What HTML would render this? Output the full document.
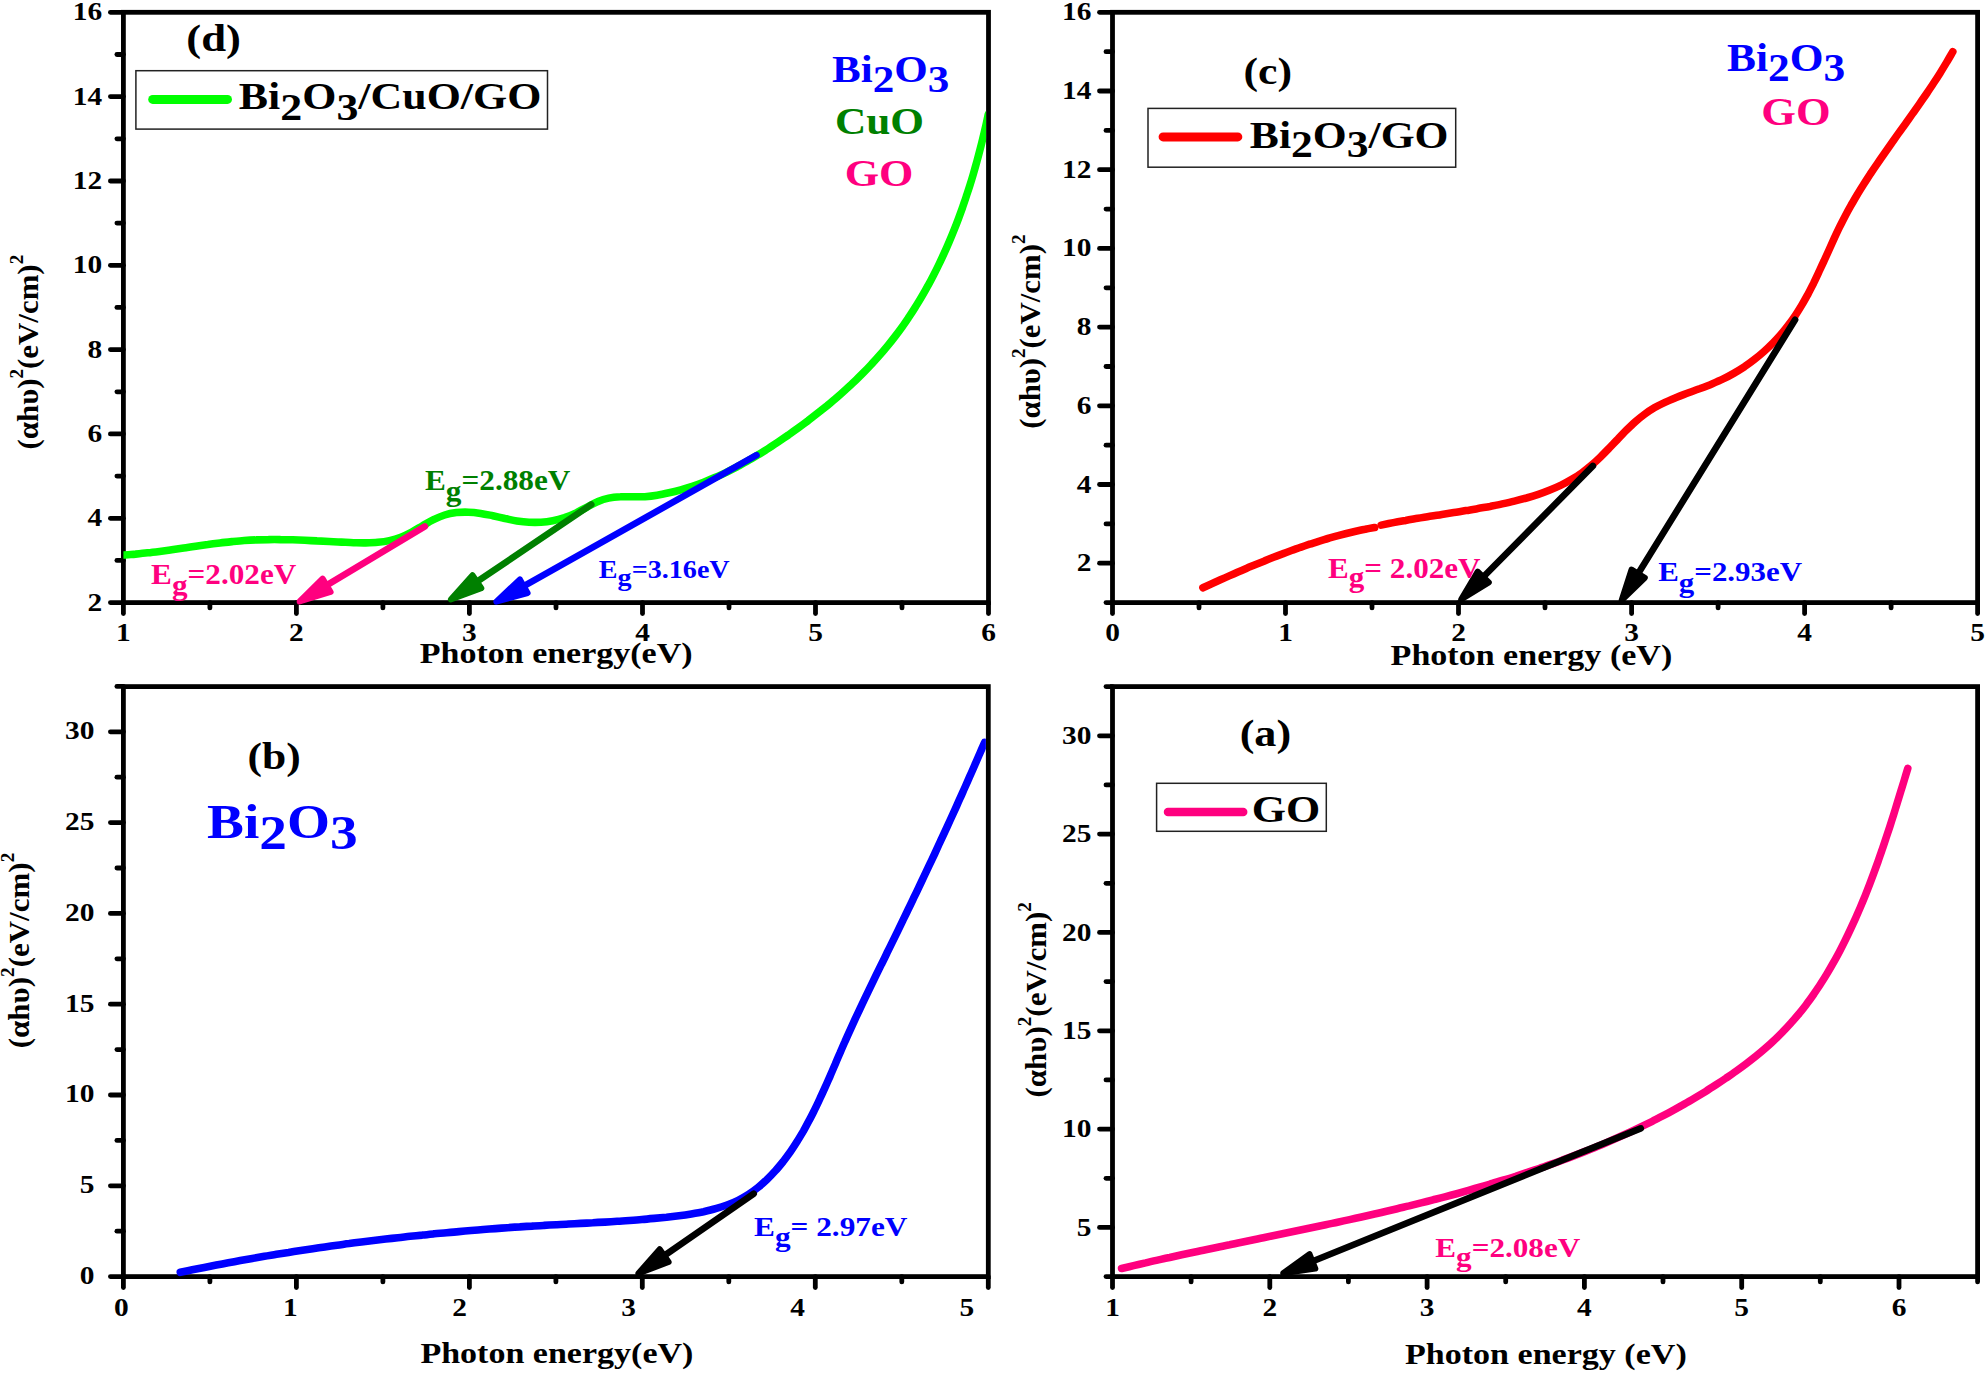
<!DOCTYPE html>
<html lang="en"><head><meta charset="utf-8"><title>Tauc plots</title>
<style>
html,body{margin:0;padding:0;background:#fff}
svg{display:block}
text{font-family:'Liberation Serif', 'DejaVu Serif', serif;font-weight:bold}
</style></head>
<body>
<svg width="1986" height="1374" viewBox="0 0 1986 1374">
<rect width="1986" height="1374" fill="#fff"/>
<defs><clipPath id="cd"><rect x="123.4" y="12.3" width="862.7" height="590.3"/></clipPath><clipPath id="cb"><rect x="123.4" y="686.6" width="862.5" height="600.0"/></clipPath></defs>
<g fill="none" stroke="#000" stroke-width="4.8">
<rect x="123.4" y="12.3" width="865.1" height="590.3"/>
<rect x="1112.5" y="12.3" width="865.1" height="590.3"/>
<rect x="123.4" y="686.6" width="864.9" height="590.0"/>
<rect x="1112.5" y="686.6" width="865.1" height="590.0"/>
</g>
<g stroke="#000" stroke-width="4.8" stroke-linecap="round">
<line x1="123.4" y1="602.6" x2="123.4" y2="613.5"/>
<line x1="209.9" y1="602.6" x2="209.9" y2="607.9"/>
<line x1="296.4" y1="602.6" x2="296.4" y2="613.5"/>
<line x1="382.9" y1="602.6" x2="382.9" y2="607.9"/>
<line x1="469.4" y1="602.6" x2="469.4" y2="613.5"/>
<line x1="556.0" y1="602.6" x2="556.0" y2="607.9"/>
<line x1="642.5" y1="602.6" x2="642.5" y2="613.5"/>
<line x1="729.0" y1="602.6" x2="729.0" y2="607.9"/>
<line x1="815.5" y1="602.6" x2="815.5" y2="613.5"/>
<line x1="902.0" y1="602.6" x2="902.0" y2="607.9"/>
<line x1="988.5" y1="602.6" x2="988.5" y2="613.5"/>
<line x1="123.4" y1="602.6" x2="110.4" y2="602.6"/>
<line x1="123.4" y1="560.4" x2="116.9" y2="560.4"/>
<line x1="123.4" y1="518.3" x2="110.4" y2="518.3"/>
<line x1="123.4" y1="476.1" x2="116.9" y2="476.1"/>
<line x1="123.4" y1="433.9" x2="110.4" y2="433.9"/>
<line x1="123.4" y1="391.8" x2="116.9" y2="391.8"/>
<line x1="123.4" y1="349.6" x2="110.4" y2="349.6"/>
<line x1="123.4" y1="307.4" x2="116.9" y2="307.4"/>
<line x1="123.4" y1="265.3" x2="110.4" y2="265.3"/>
<line x1="123.4" y1="223.1" x2="116.9" y2="223.1"/>
<line x1="123.4" y1="181.0" x2="110.4" y2="181.0"/>
<line x1="123.4" y1="138.8" x2="116.9" y2="138.8"/>
<line x1="123.4" y1="96.6" x2="110.4" y2="96.6"/>
<line x1="123.4" y1="54.5" x2="116.9" y2="54.5"/>
<line x1="123.4" y1="12.3" x2="110.4" y2="12.3"/>
<line x1="1112.5" y1="602.6" x2="1112.5" y2="613.5"/>
<line x1="1199.0" y1="602.6" x2="1199.0" y2="607.9"/>
<line x1="1285.5" y1="602.6" x2="1285.5" y2="613.5"/>
<line x1="1372.0" y1="602.6" x2="1372.0" y2="607.9"/>
<line x1="1458.5" y1="602.6" x2="1458.5" y2="613.5"/>
<line x1="1545.0" y1="602.6" x2="1545.0" y2="607.9"/>
<line x1="1631.6" y1="602.6" x2="1631.6" y2="613.5"/>
<line x1="1718.1" y1="602.6" x2="1718.1" y2="607.9"/>
<line x1="1804.6" y1="602.6" x2="1804.6" y2="613.5"/>
<line x1="1891.1" y1="602.6" x2="1891.1" y2="607.9"/>
<line x1="1977.6" y1="602.6" x2="1977.6" y2="613.5"/>
<line x1="1112.5" y1="602.6" x2="1106.0" y2="602.6"/>
<line x1="1112.5" y1="563.2" x2="1099.5" y2="563.2"/>
<line x1="1112.5" y1="523.9" x2="1106.0" y2="523.9"/>
<line x1="1112.5" y1="484.5" x2="1099.5" y2="484.5"/>
<line x1="1112.5" y1="445.2" x2="1106.0" y2="445.2"/>
<line x1="1112.5" y1="405.8" x2="1099.5" y2="405.8"/>
<line x1="1112.5" y1="366.5" x2="1106.0" y2="366.5"/>
<line x1="1112.5" y1="327.1" x2="1099.5" y2="327.1"/>
<line x1="1112.5" y1="287.8" x2="1106.0" y2="287.8"/>
<line x1="1112.5" y1="248.4" x2="1099.5" y2="248.4"/>
<line x1="1112.5" y1="209.1" x2="1106.0" y2="209.1"/>
<line x1="1112.5" y1="169.7" x2="1099.5" y2="169.7"/>
<line x1="1112.5" y1="130.4" x2="1106.0" y2="130.4"/>
<line x1="1112.5" y1="91.0" x2="1099.5" y2="91.0"/>
<line x1="1112.5" y1="51.7" x2="1106.0" y2="51.7"/>
<line x1="1112.5" y1="12.3" x2="1099.5" y2="12.3"/>
<line x1="123.4" y1="1276.6" x2="123.4" y2="1287.5"/>
<line x1="209.9" y1="1276.6" x2="209.9" y2="1281.9"/>
<line x1="296.4" y1="1276.6" x2="296.4" y2="1287.5"/>
<line x1="382.9" y1="1276.6" x2="382.9" y2="1281.9"/>
<line x1="469.4" y1="1276.6" x2="469.4" y2="1287.5"/>
<line x1="555.9" y1="1276.6" x2="555.9" y2="1281.9"/>
<line x1="642.3" y1="1276.6" x2="642.3" y2="1287.5"/>
<line x1="728.8" y1="1276.6" x2="728.8" y2="1281.9"/>
<line x1="815.3" y1="1276.6" x2="815.3" y2="1287.5"/>
<line x1="901.8" y1="1276.6" x2="901.8" y2="1281.9"/>
<line x1="988.3" y1="1276.6" x2="988.3" y2="1287.5"/>
<line x1="123.4" y1="1276.6" x2="110.4" y2="1276.6"/>
<line x1="123.4" y1="1231.2" x2="116.9" y2="1231.2"/>
<line x1="123.4" y1="1185.8" x2="110.4" y2="1185.8"/>
<line x1="123.4" y1="1140.4" x2="116.9" y2="1140.4"/>
<line x1="123.4" y1="1095.0" x2="110.4" y2="1095.0"/>
<line x1="123.4" y1="1049.6" x2="116.9" y2="1049.6"/>
<line x1="123.4" y1="1004.2" x2="110.4" y2="1004.2"/>
<line x1="123.4" y1="958.8" x2="116.9" y2="958.8"/>
<line x1="123.4" y1="913.4" x2="110.4" y2="913.4"/>
<line x1="123.4" y1="868.0" x2="116.9" y2="868.0"/>
<line x1="123.4" y1="822.6" x2="110.4" y2="822.6"/>
<line x1="123.4" y1="777.2" x2="116.9" y2="777.2"/>
<line x1="123.4" y1="731.8" x2="110.4" y2="731.8"/>
<line x1="123.4" y1="686.4" x2="116.9" y2="686.4"/>
<line x1="1112.5" y1="1276.6" x2="1112.5" y2="1287.5"/>
<line x1="1191.1" y1="1276.6" x2="1191.1" y2="1281.9"/>
<line x1="1269.8" y1="1276.6" x2="1269.8" y2="1287.5"/>
<line x1="1348.4" y1="1276.6" x2="1348.4" y2="1281.9"/>
<line x1="1427.1" y1="1276.6" x2="1427.1" y2="1287.5"/>
<line x1="1505.7" y1="1276.6" x2="1505.7" y2="1281.9"/>
<line x1="1584.4" y1="1276.6" x2="1584.4" y2="1287.5"/>
<line x1="1663.0" y1="1276.6" x2="1663.0" y2="1281.9"/>
<line x1="1741.7" y1="1276.6" x2="1741.7" y2="1287.5"/>
<line x1="1820.3" y1="1276.6" x2="1820.3" y2="1281.9"/>
<line x1="1899.0" y1="1276.6" x2="1899.0" y2="1287.5"/>
<line x1="1977.6" y1="1276.6" x2="1977.6" y2="1281.9"/>
<line x1="1112.5" y1="1276.6" x2="1106.0" y2="1276.6"/>
<line x1="1112.5" y1="1227.4" x2="1099.5" y2="1227.4"/>
<line x1="1112.5" y1="1178.3" x2="1106.0" y2="1178.3"/>
<line x1="1112.5" y1="1129.1" x2="1099.5" y2="1129.1"/>
<line x1="1112.5" y1="1079.9" x2="1106.0" y2="1079.9"/>
<line x1="1112.5" y1="1030.8" x2="1099.5" y2="1030.8"/>
<line x1="1112.5" y1="981.6" x2="1106.0" y2="981.6"/>
<line x1="1112.5" y1="932.4" x2="1099.5" y2="932.4"/>
<line x1="1112.5" y1="883.3" x2="1106.0" y2="883.3"/>
<line x1="1112.5" y1="834.1" x2="1099.5" y2="834.1"/>
<line x1="1112.5" y1="784.9" x2="1106.0" y2="784.9"/>
<line x1="1112.5" y1="735.8" x2="1099.5" y2="735.8"/>
<line x1="1112.5" y1="686.6" x2="1106.0" y2="686.6"/>
</g>
<g fill="none" stroke-linecap="round" stroke-linejoin="round">
<path d="M123.4,555.0C125.4,554.8 131.5,554.4 135.5,554.1C139.5,553.7 143.5,553.3 147.6,552.8C151.6,552.4 155.6,551.9 159.6,551.4C163.7,550.8 167.7,550.3 171.7,549.7C175.7,549.1 179.7,548.5 183.7,547.9C187.8,547.4 191.8,546.8 195.8,546.2C199.8,545.6 203.9,545.0 207.9,544.5C211.9,543.9 215.9,543.4 220.0,542.9C224.0,542.4 228.0,542.0 232.0,541.6C236.1,541.2 240.1,540.8 244.1,540.5C248.2,540.2 252.2,540.0 256.2,539.9C260.3,539.7 264.3,539.6 268.4,539.6C272.4,539.5 276.5,539.5 280.5,539.6C284.6,539.6 288.6,539.7 292.7,539.8C296.7,540.0 300.8,540.1 304.9,540.3C308.9,540.5 313.0,540.7 317.0,540.9C321.1,541.1 325.2,541.3 329.2,541.5C333.3,541.7 337.3,542.0 341.4,542.1C345.5,542.3 349.5,542.6 353.6,542.7C357.6,542.8 361.7,543.0 365.7,542.9C369.7,542.8 373.8,542.7 377.7,542.3C381.7,541.9 385.6,541.4 389.4,540.6C393.3,539.7 397.1,538.6 400.8,537.2C404.6,535.7 408.2,533.9 411.8,532.0C415.5,530.1 419.0,527.8 422.6,525.7C426.2,523.7 429.8,521.5 433.5,519.7C437.2,517.9 440.9,516.2 444.7,515.0C448.5,513.8 452.5,513.1 456.4,512.6C460.4,512.1 464.5,512.1 468.5,512.2C472.5,512.3 476.6,512.8 480.7,513.4C484.8,514.0 488.8,514.9 492.8,515.7C496.8,516.6 500.9,517.6 504.9,518.5C508.9,519.3 512.9,520.3 516.9,520.9C520.9,521.5 524.9,522.0 529.0,522.2C533.0,522.4 537.0,522.4 541.0,522.2C545.0,521.9 548.9,521.4 552.8,520.7C556.8,519.9 560.6,518.9 564.5,517.7C568.3,516.4 572.0,514.9 575.7,513.1C579.4,511.4 582.9,509.2 586.6,507.3C590.2,505.4 593.7,503.3 597.4,501.8C601.1,500.2 604.8,498.9 608.7,498.1C612.5,497.3 616.5,497.0 620.5,496.8C624.5,496.5 628.6,496.8 632.6,496.8C636.7,496.8 640.9,496.9 644.9,496.7C649.0,496.4 653.1,495.9 657.1,495.2C661.1,494.6 665.1,493.7 669.0,492.8C673.0,491.9 676.9,490.9 680.8,489.8C684.6,488.8 688.5,487.6 692.3,486.3C696.1,485.0 699.9,483.6 703.6,482.2C707.4,480.7 711.1,479.2 714.8,477.6C718.5,476.0 722.1,474.3 725.8,472.6C729.4,470.8 733.0,469.0 736.6,467.1C740.1,465.2 743.7,463.3 747.2,461.3C750.7,459.3 754.2,457.2 757.7,455.1C761.2,453.0 764.6,450.8 768.1,448.6C771.5,446.4 774.9,444.2 778.3,441.9C781.7,439.6 785.0,437.3 788.4,435.0C791.7,432.6 795.0,430.3 798.3,427.9C801.6,425.5 804.9,423.0 808.2,420.6C811.4,418.1 814.6,415.6 817.8,413.1C821.0,410.6 824.2,408.0 827.4,405.5C830.5,402.9 833.6,400.3 836.7,397.6C839.8,395.0 842.8,392.3 845.8,389.5C848.8,386.8 851.8,384.1 854.7,381.3C857.6,378.5 860.5,375.6 863.3,372.8C866.2,369.9 869.0,367.0 871.7,364.0C874.5,361.1 877.2,358.1 879.8,355.1C882.5,352.0 885.1,349.0 887.6,345.9C890.2,342.7 892.7,339.6 895.1,336.4C897.6,333.2 900.0,329.9 902.3,326.7C904.7,323.4 906.9,320.1 909.2,316.7C911.4,313.4 913.6,310.0 915.7,306.5C917.9,303.1 920.0,299.7 922.0,296.2C924.1,292.7 926.1,289.2 928.0,285.6C930.0,282.1 931.9,278.5 933.7,274.9C935.6,271.3 937.4,267.6 939.1,264.0C940.9,260.3 942.6,256.6 944.3,252.9C946.0,249.2 947.6,245.5 949.2,241.7C950.8,238.0 952.4,234.2 953.9,230.4C955.4,226.7 956.9,222.9 958.3,219.1C959.7,215.2 961.1,211.4 962.5,207.6C963.8,203.7 965.2,199.9 966.4,196.0C967.7,192.1 969.0,188.3 970.2,184.4C971.4,180.5 972.6,176.6 973.7,172.7C974.8,168.8 975.9,164.9 977.0,161.0C978.1,157.1 979.1,153.2 980.1,149.3C981.1,145.4 982.1,141.5 983.0,137.6C984.0,133.7 984.9,129.8 985.8,125.9C986.7,122.0 987.9,116.1 988.3,114.2" stroke="#00ff00" stroke-width="7.6" clip-path="url(#cd)"/>
<path d="M1202.9,587.7C1204.4,587.0 1208.7,585.0 1211.7,583.7C1214.6,582.4 1217.5,581.1 1220.4,579.8C1223.3,578.5 1226.3,577.2 1229.2,575.9C1232.1,574.6 1235.1,573.3 1238.0,572.0C1240.9,570.8 1243.9,569.5 1246.8,568.2C1249.8,567.0 1252.7,565.7 1255.7,564.5C1258.6,563.3 1261.6,562.1 1264.6,560.9C1267.6,559.7 1270.5,558.5 1273.5,557.3C1276.5,556.1 1279.5,555.0 1282.5,553.9C1285.5,552.7 1288.5,551.6 1291.5,550.5C1294.5,549.4 1297.5,548.4 1300.5,547.3C1303.5,546.3 1306.6,545.2 1309.6,544.2C1312.7,543.2 1315.7,542.3 1318.7,541.3C1321.8,540.4 1324.9,539.4 1327.9,538.5C1331.0,537.6 1334.1,536.8 1337.2,535.9C1340.2,535.1 1343.3,534.3 1346.4,533.5C1349.5,532.7 1352.6,532.0 1355.8,531.3C1358.9,530.6 1362.0,529.9 1365.2,529.3C1368.3,528.6 1373.0,527.8 1374.6,527.5" stroke="#ff0000" stroke-width="7.6"/>
<path d="M1381.2,525.1C1383.2,524.7 1389.4,523.4 1393.4,522.6C1397.5,521.8 1401.6,521.1 1405.6,520.4C1409.6,519.6 1413.7,519.0 1417.7,518.3C1421.7,517.6 1425.7,517.0 1429.8,516.3C1433.8,515.7 1437.8,515.1 1441.8,514.4C1445.8,513.8 1449.8,513.2 1453.8,512.6C1457.9,511.9 1461.9,511.3 1465.9,510.6C1469.9,510.0 1473.9,509.3 1478.0,508.6C1482.0,507.9 1486.0,507.1 1490.1,506.4C1494.1,505.6 1498.2,504.8 1502.2,503.9C1506.3,503.0 1510.4,502.1 1514.4,501.1C1518.4,500.2 1522.5,499.1 1526.5,498.0C1530.5,496.8 1534.4,495.6 1538.3,494.3C1542.2,493.0 1546.1,491.6 1549.9,490.0C1553.7,488.5 1557.5,486.8 1561.1,485.1C1564.8,483.3 1568.3,481.4 1571.8,479.3C1575.3,477.3 1578.7,475.1 1582.0,472.7C1585.3,470.3 1588.4,467.8 1591.5,465.2C1594.6,462.5 1597.6,459.7 1600.5,456.9C1603.5,454.0 1606.3,451.1 1609.2,448.1C1612.1,445.2 1614.9,442.1 1617.8,439.2C1620.6,436.2 1623.4,433.2 1626.3,430.3C1629.3,427.4 1632.2,424.6 1635.2,421.9C1638.2,419.2 1641.3,416.6 1644.6,414.2C1647.8,411.8 1651.2,409.7 1654.7,407.6C1658.2,405.6 1661.8,403.8 1665.5,402.1C1669.2,400.3 1673.0,398.8 1676.9,397.2C1680.7,395.7 1684.6,394.3 1688.5,392.8C1692.4,391.3 1696.3,389.9 1700.2,388.5C1704.1,387.0 1708.0,385.5 1711.9,383.9C1715.7,382.3 1719.5,380.7 1723.2,378.9C1726.9,377.1 1730.5,375.2 1734.1,373.1C1737.6,371.1 1741.1,368.9 1744.5,366.7C1747.8,364.4 1751.1,362.0 1754.3,359.5C1757.5,357.1 1760.7,354.5 1763.7,351.8C1766.7,349.1 1769.7,346.3 1772.5,343.4C1775.4,340.6 1778.1,337.6 1780.8,334.5C1783.4,331.5 1786.0,328.3 1788.4,325.1C1790.9,321.9 1793.2,318.6 1795.4,315.3C1797.7,311.9 1799.8,308.4 1801.9,304.9C1804.0,301.5 1805.9,297.9 1807.9,294.3C1809.8,290.7 1811.6,287.0 1813.5,283.4C1815.3,279.7 1817.0,276.0 1818.8,272.2C1820.5,268.5 1822.2,264.7 1824.0,261.0C1825.7,257.2 1827.4,253.4 1829.1,249.7C1830.8,245.9 1832.5,242.1 1834.2,238.4C1836.0,234.6 1837.7,230.9 1839.5,227.2C1841.4,223.5 1843.2,219.8 1845.1,216.2C1847.0,212.5 1849.0,208.9 1851.0,205.4C1853.1,201.8 1855.1,198.3 1857.2,194.8C1859.3,191.3 1861.5,187.8 1863.7,184.3C1865.9,180.9 1868.1,177.4 1870.3,174.0C1872.6,170.6 1874.9,167.2 1877.2,163.8C1879.5,160.4 1881.8,157.1 1884.2,153.7C1886.5,150.4 1888.9,147.0 1891.2,143.7C1893.6,140.3 1896.0,137.0 1898.3,133.7C1900.7,130.3 1903.1,127.0 1905.5,123.7C1907.9,120.3 1910.3,117.0 1912.6,113.7C1915.0,110.3 1917.4,107.0 1919.7,103.6C1922.0,100.2 1924.4,96.9 1926.7,93.5C1929.0,90.1 1931.3,86.7 1933.5,83.3C1935.8,79.8 1938.0,76.4 1940.2,72.9C1942.4,69.4 1944.5,65.9 1946.6,62.4C1948.7,58.9 1951.8,53.5 1952.8,51.8" stroke="#ff0000" stroke-width="7.6"/>
<path d="M180.3,1272.3C182.3,1271.9 188.3,1270.6 192.3,1269.8C196.3,1269.0 200.3,1268.2 204.3,1267.4C208.3,1266.6 212.3,1265.8 216.3,1265.0C220.3,1264.3 224.3,1263.5 228.3,1262.8C232.3,1262.0 236.3,1261.3 240.3,1260.5C244.3,1259.8 248.3,1259.1 252.3,1258.4C256.4,1257.7 260.4,1257.0 264.4,1256.3C268.4,1255.6 272.4,1255.0 276.5,1254.3C280.5,1253.6 284.5,1253.0 288.6,1252.4C292.6,1251.7 296.6,1251.1 300.7,1250.5C304.7,1249.9 308.7,1249.3 312.8,1248.7C316.8,1248.1 320.9,1247.5 324.9,1246.9C329.0,1246.3 333.0,1245.8 337.1,1245.2C341.1,1244.7 345.1,1244.1 349.2,1243.6C353.3,1243.0 357.3,1242.5 361.4,1242.0C365.4,1241.5 369.5,1241.0 373.5,1240.5C377.6,1240.0 381.6,1239.5 385.7,1239.0C389.8,1238.6 393.8,1238.1 397.9,1237.7C401.9,1237.2 406.0,1236.8 410.1,1236.3C414.1,1235.9 418.2,1235.5 422.2,1235.1C426.3,1234.6 430.4,1234.2 434.4,1233.8C438.5,1233.4 442.6,1233.1 446.6,1232.7C450.7,1232.3 454.8,1231.9 458.8,1231.6C462.9,1231.2 466.9,1230.9 471.0,1230.5C475.1,1230.2 479.1,1229.9 483.2,1229.5C487.3,1229.2 491.3,1228.9 495.4,1228.6C499.5,1228.3 503.5,1228.0 507.6,1227.7C511.6,1227.4 515.7,1227.1 519.8,1226.9C523.8,1226.6 527.9,1226.3 531.9,1226.1C536.0,1225.8 540.1,1225.6 544.1,1225.4C548.2,1225.1 552.2,1224.9 556.3,1224.7C560.3,1224.5 564.4,1224.3 568.5,1224.0C572.5,1223.8 576.6,1223.6 580.6,1223.4C584.7,1223.2 588.7,1223.0 592.8,1222.8C596.9,1222.5 600.9,1222.3 605.0,1222.1C609.1,1221.8 613.1,1221.6 617.2,1221.3C621.3,1221.1 625.4,1220.8 629.5,1220.5C633.6,1220.2 637.7,1219.9 641.8,1219.5C645.9,1219.2 650.0,1218.8 654.1,1218.4C658.2,1218.0 662.3,1217.6 666.5,1217.2C670.6,1216.7 674.8,1216.2 678.9,1215.7C683.0,1215.2 687.2,1214.6 691.3,1213.9C695.4,1213.2 699.5,1212.5 703.6,1211.7C707.6,1210.8 711.6,1209.9 715.6,1208.7C719.5,1207.6 723.4,1206.4 727.1,1205.0C730.9,1203.6 734.6,1202.0 738.1,1200.3C741.7,1198.5 745.1,1196.5 748.4,1194.4C751.8,1192.2 755.0,1189.9 758.1,1187.4C761.2,1184.9 764.2,1182.2 767.0,1179.5C769.9,1176.7 772.7,1173.8 775.4,1170.8C778.1,1167.8 780.7,1164.6 783.2,1161.5C785.6,1158.3 788.0,1155.0 790.4,1151.7C792.7,1148.4 794.9,1145.0 797.1,1141.5C799.2,1138.1 801.3,1134.6 803.4,1131.1C805.4,1127.5 807.3,1124.0 809.2,1120.3C811.2,1116.7 813.0,1113.0 814.8,1109.4C816.6,1105.7 818.4,1102.0 820.1,1098.2C821.9,1094.5 823.6,1090.7 825.3,1086.9C827.0,1083.2 828.6,1079.4 830.3,1075.6C831.9,1071.8 833.5,1068.0 835.2,1064.2C836.8,1060.4 838.4,1056.6 840.1,1052.8C841.7,1049.0 843.3,1045.2 845.0,1041.5C846.6,1037.7 848.3,1034.0 850.0,1030.3C851.7,1026.5 853.4,1022.8 855.1,1019.1C856.8,1015.4 858.6,1011.8 860.3,1008.1C862.0,1004.4 863.8,1000.7 865.5,997.1C867.3,993.4 869.0,989.8 870.8,986.1C872.6,982.5 874.4,978.8 876.1,975.2C877.9,971.5 879.7,967.9 881.5,964.2C883.3,960.6 885.1,957.0 886.8,953.3C888.6,949.7 890.4,946.0 892.2,942.4C894.0,938.7 895.8,935.1 897.6,931.4C899.3,927.8 901.1,924.1 902.9,920.4C904.7,916.7 906.5,913.1 908.2,909.4C910.0,905.7 911.8,902.0 913.5,898.3C915.3,894.7 917.1,891.0 918.8,887.3C920.6,883.6 922.3,879.9 924.1,876.2C925.8,872.5 927.6,868.8 929.3,865.1C931.1,861.4 932.8,857.7 934.6,854.0C936.3,850.2 938.0,846.5 939.7,842.8C941.5,839.1 943.2,835.4 944.9,831.7C946.6,828.0 948.3,824.2 950.0,820.5C951.7,816.8 953.4,813.1 955.1,809.4C956.8,805.6 958.4,801.9 960.1,798.2C961.8,794.5 963.4,790.7 965.1,787.0C966.8,783.3 968.4,779.6 970.0,775.8C971.7,772.1 973.3,768.4 974.9,764.7C976.6,761.0 978.2,757.2 979.8,753.5C981.4,749.8 983.8,744.2 984.6,742.4" stroke="#0000ff" stroke-width="7.6" clip-path="url(#cb)"/>
<path d="M1121.6,1268.5C1123.6,1268.0 1129.6,1266.6 1133.6,1265.6C1137.6,1264.7 1141.6,1263.8 1145.6,1262.9C1149.6,1261.9 1153.6,1261.0 1157.6,1260.1C1161.7,1259.2 1165.7,1258.3 1169.7,1257.5C1173.7,1256.6 1177.7,1255.7 1181.7,1254.8C1185.7,1254.0 1189.7,1253.1 1193.7,1252.3C1197.7,1251.4 1201.7,1250.5 1205.7,1249.7C1209.7,1248.9 1213.7,1248.0 1217.7,1247.2C1221.7,1246.3 1225.7,1245.5 1229.7,1244.7C1233.7,1243.8 1237.7,1243.0 1241.7,1242.2C1245.7,1241.4 1249.7,1240.5 1253.7,1239.7C1257.7,1238.9 1261.7,1238.1 1265.7,1237.2C1269.7,1236.4 1273.7,1235.6 1277.7,1234.8C1281.7,1234.0 1285.7,1233.1 1289.7,1232.3C1293.7,1231.5 1297.7,1230.6 1301.7,1229.8C1305.7,1229.0 1309.7,1228.1 1313.7,1227.3C1317.7,1226.5 1321.7,1225.6 1325.7,1224.8C1329.6,1223.9 1333.6,1223.1 1337.6,1222.2C1341.6,1221.3 1345.6,1220.5 1349.6,1219.6C1353.6,1218.7 1357.5,1217.9 1361.5,1217.0C1365.5,1216.1 1369.5,1215.2 1373.5,1214.3C1377.4,1213.4 1381.4,1212.5 1385.4,1211.5C1389.4,1210.6 1393.3,1209.7 1397.3,1208.7C1401.3,1207.8 1405.2,1206.8 1409.2,1205.9C1413.2,1204.9 1417.1,1203.9 1421.1,1202.9C1425.1,1202.0 1429.0,1201.0 1433.0,1199.9C1436.9,1198.9 1440.9,1197.9 1444.9,1196.8C1448.8,1195.8 1452.8,1194.7 1456.7,1193.7C1460.7,1192.6 1464.6,1191.5 1468.5,1190.4C1472.5,1189.3 1476.4,1188.2 1480.4,1187.0C1484.3,1185.9 1488.2,1184.7 1492.2,1183.5C1496.1,1182.4 1500.0,1181.2 1503.9,1180.0C1507.9,1178.7 1511.8,1177.5 1515.7,1176.3C1519.6,1175.0 1523.5,1173.7 1527.4,1172.4C1531.3,1171.1 1535.2,1169.8 1539.1,1168.5C1542.9,1167.2 1546.8,1165.8 1550.7,1164.4C1554.5,1163.1 1558.4,1161.7 1562.2,1160.2C1566.1,1158.8 1569.9,1157.4 1573.7,1155.9C1577.6,1154.4 1581.4,1152.9 1585.2,1151.4C1589.0,1149.9 1592.8,1148.4 1596.6,1146.8C1600.4,1145.2 1604.1,1143.6 1607.9,1142.0C1611.6,1140.4 1615.4,1138.7 1619.1,1137.1C1622.8,1135.4 1626.6,1133.7 1630.3,1132.0C1634.0,1130.3 1637.7,1128.5 1641.3,1126.7C1645.0,1124.9 1648.7,1123.1 1652.3,1121.3C1656.0,1119.4 1659.6,1117.6 1663.2,1115.7C1666.8,1113.8 1670.4,1111.8 1674.0,1109.9C1677.6,1107.9 1681.1,1105.9 1684.7,1103.9C1688.2,1101.9 1691.7,1099.8 1695.2,1097.7C1698.7,1095.6 1702.2,1093.5 1705.7,1091.4C1709.2,1089.2 1712.6,1087.0 1716.0,1084.8C1719.4,1082.6 1722.9,1080.3 1726.2,1078.0C1729.6,1075.7 1733.0,1073.4 1736.3,1071.0C1739.6,1068.7 1742.9,1066.3 1746.2,1063.8C1749.4,1061.3 1752.6,1058.8 1755.8,1056.3C1759.0,1053.7 1762.1,1051.1 1765.2,1048.4C1768.2,1045.8 1771.3,1043.0 1774.2,1040.2C1777.2,1037.5 1780.1,1034.6 1782.9,1031.7C1785.7,1028.8 1788.5,1025.8 1791.2,1022.8C1793.9,1019.7 1796.6,1016.7 1799.2,1013.5C1801.7,1010.4 1804.3,1007.2 1806.7,1003.9C1809.2,1000.7 1811.6,997.3 1813.9,994.0C1816.2,990.6 1818.5,987.2 1820.7,983.8C1822.9,980.4 1825.1,976.9 1827.2,973.4C1829.3,969.9 1831.4,966.3 1833.4,962.7C1835.4,959.1 1837.4,955.5 1839.3,951.9C1841.2,948.3 1843.1,944.6 1844.9,940.9C1846.7,937.3 1848.5,933.6 1850.2,929.9C1852.0,926.1 1853.7,922.4 1855.4,918.7C1857.0,914.9 1858.7,911.2 1860.3,907.4C1861.9,903.6 1863.4,899.9 1865.0,896.1C1866.5,892.3 1868.0,888.5 1869.5,884.6C1870.9,880.8 1872.4,877.0 1873.8,873.2C1875.2,869.3 1876.6,865.5 1878.0,861.6C1879.3,857.8 1880.7,853.9 1882.0,850.0C1883.3,846.2 1884.7,842.3 1885.9,838.4C1887.2,834.5 1888.5,830.6 1889.8,826.8C1891.0,822.9 1892.3,819.0 1893.5,815.1C1894.7,811.2 1895.9,807.3 1897.1,803.4C1898.3,799.5 1899.5,795.6 1900.7,791.7C1901.9,787.8 1903.1,783.9 1904.3,780.0C1905.5,776.1 1907.2,770.3 1907.8,768.3" stroke="#ff007f" stroke-width="7.6"/>
</g>
<g>
<rect x="135.9" y="70.7" width="411.6" height="58.4" fill="#fff" stroke="#222" stroke-width="1.5"/><line x1="152.7" y1="99.4" x2="227.5" y2="99.4" stroke="#00ff00" stroke-width="9" stroke-linecap="round"/>
<rect x="1148" y="108.4" width="307.7" height="58.8" fill="#fff" stroke="#222" stroke-width="1.5"/><line x1="1163.1" y1="136.9" x2="1237.8" y2="136.9" stroke="#ff0000" stroke-width="9" stroke-linecap="round"/>
<rect x="1156.6" y="783.3" width="169.7" height="48.0" fill="#fff" stroke="#222" stroke-width="1.5"/><line x1="1168.0" y1="811.9" x2="1243.2" y2="811.9" stroke="#ff007f" stroke-width="8.5" stroke-linecap="round"/>
</g>
<g>
<g stroke="#ff007f" fill="#ff007f"><line x1="424.9" y1="526.4" x2="325.7" y2="585.8" stroke-width="6.6" stroke-linecap="round"/><polygon points="299.6,601.5 322.6,578.6 330.6,592.0" stroke-width="6.0" stroke-linejoin="round"/></g>
<g stroke="#008000" fill="#008000"><line x1="591.3" y1="504.5" x2="476.1" y2="582.3" stroke-width="6.6" stroke-linecap="round"/><polygon points="450.8,599.4 472.5,575.3 481.3,588.3" stroke-width="6.0" stroke-linejoin="round"/></g>
<g stroke="#0000ff" fill="#0000ff"><line x1="756.5" y1="455.1" x2="522.9" y2="586.7" stroke-width="6.6" stroke-linecap="round"/><polygon points="496.3,601.6 519.9,579.4 527.6,593.0" stroke-width="6.0" stroke-linejoin="round"/></g>
<g stroke="#000" fill="#000"><line x1="1592.9" y1="465.9" x2="1482.5" y2="577.8" stroke-width="6.6" stroke-linecap="round"/><polygon points="1461.1,599.5 1477.7,571.6 1488.8,582.5" stroke-width="6.0" stroke-linejoin="round"/></g>
<g stroke="#000" fill="#000"><line x1="1795.1" y1="319.7" x2="1637.6" y2="574.5" stroke-width="6.6" stroke-linecap="round"/><polygon points="1621.6,600.4 1631.5,569.6 1644.8,577.8" stroke-width="6.0" stroke-linejoin="round"/></g>
<g stroke="#000" fill="#000"><line x1="753.7" y1="1193.7" x2="663.4" y2="1256.2" stroke-width="6.6" stroke-linecap="round"/><polygon points="638.3,1273.5 659.7,1249.2 668.6,1262.0" stroke-width="6.0" stroke-linejoin="round"/></g>
<g stroke="#000" fill="#000"><line x1="1640.8" y1="1128.4" x2="1311.5" y2="1261.7" stroke-width="6.6" stroke-linecap="round"/><polygon points="1283.2,1273.2 1309.5,1254.1 1315.3,1268.6" stroke-width="6.0" stroke-linejoin="round"/></g>
</g>
<g font-size="24.5">
<text transform="translate(123.4,640.8) scale(1.2,1)" text-anchor="middle">1</text>
<text transform="translate(296.4,640.8) scale(1.2,1)" text-anchor="middle">2</text>
<text transform="translate(469.4,640.8) scale(1.2,1)" text-anchor="middle">3</text>
<text transform="translate(642.5,640.8) scale(1.2,1)" text-anchor="middle">4</text>
<text transform="translate(815.5,640.8) scale(1.2,1)" text-anchor="middle">5</text>
<text transform="translate(988.5,640.8) scale(1.2,1)" text-anchor="middle">6</text>
<text transform="translate(102.1,610.5) scale(1.2,1)" text-anchor="end">2</text>
<text transform="translate(102.1,526.2) scale(1.2,1)" text-anchor="end">4</text>
<text transform="translate(102.1,441.8) scale(1.2,1)" text-anchor="end">6</text>
<text transform="translate(102.1,357.5) scale(1.2,1)" text-anchor="end">8</text>
<text transform="translate(102.1,273.2) scale(1.2,1)" text-anchor="end">10</text>
<text transform="translate(102.1,188.9) scale(1.2,1)" text-anchor="end">12</text>
<text transform="translate(102.1,104.5) scale(1.2,1)" text-anchor="end">14</text>
<text transform="translate(102.1,20.2) scale(1.2,1)" text-anchor="end">16</text>
<text transform="translate(1112.5,640.8) scale(1.2,1)" text-anchor="middle">0</text>
<text transform="translate(1285.5,640.8) scale(1.2,1)" text-anchor="middle">1</text>
<text transform="translate(1458.5,640.8) scale(1.2,1)" text-anchor="middle">2</text>
<text transform="translate(1631.6,640.8) scale(1.2,1)" text-anchor="middle">3</text>
<text transform="translate(1804.6,640.8) scale(1.2,1)" text-anchor="middle">4</text>
<text transform="translate(1977.6,640.8) scale(1.2,1)" text-anchor="middle">5</text>
<text transform="translate(1091.4,571.2) scale(1.2,1)" text-anchor="end">2</text>
<text transform="translate(1091.4,492.5) scale(1.2,1)" text-anchor="end">4</text>
<text transform="translate(1091.4,413.8) scale(1.2,1)" text-anchor="end">6</text>
<text transform="translate(1091.4,335.1) scale(1.2,1)" text-anchor="end">8</text>
<text transform="translate(1091.4,256.4) scale(1.2,1)" text-anchor="end">10</text>
<text transform="translate(1091.4,177.7) scale(1.2,1)" text-anchor="end">12</text>
<text transform="translate(1091.4,99.0) scale(1.2,1)" text-anchor="end">14</text>
<text transform="translate(1091.4,20.3) scale(1.2,1)" text-anchor="end">16</text>
<text transform="translate(121.3,1315.7) scale(1.2,1)" text-anchor="middle">0</text>
<text transform="translate(290.4,1315.7) scale(1.2,1)" text-anchor="middle">1</text>
<text transform="translate(459.5,1315.7) scale(1.2,1)" text-anchor="middle">2</text>
<text transform="translate(628.6,1315.7) scale(1.2,1)" text-anchor="middle">3</text>
<text transform="translate(797.7,1315.7) scale(1.2,1)" text-anchor="middle">4</text>
<text transform="translate(966.8,1315.7) scale(1.2,1)" text-anchor="middle">5</text>
<text transform="translate(94.4,1284.0) scale(1.2,1)" text-anchor="end">0</text>
<text transform="translate(94.4,1193.2) scale(1.2,1)" text-anchor="end">5</text>
<text transform="translate(94.4,1102.4) scale(1.2,1)" text-anchor="end">10</text>
<text transform="translate(94.4,1011.6) scale(1.2,1)" text-anchor="end">15</text>
<text transform="translate(94.4,920.8) scale(1.2,1)" text-anchor="end">20</text>
<text transform="translate(94.4,830.0) scale(1.2,1)" text-anchor="end">25</text>
<text transform="translate(94.4,739.2) scale(1.2,1)" text-anchor="end">30</text>
<text transform="translate(1112.5,1315.7) scale(1.2,1)" text-anchor="middle">1</text>
<text transform="translate(1269.8,1315.7) scale(1.2,1)" text-anchor="middle">2</text>
<text transform="translate(1427.1,1315.7) scale(1.2,1)" text-anchor="middle">3</text>
<text transform="translate(1584.4,1315.7) scale(1.2,1)" text-anchor="middle">4</text>
<text transform="translate(1741.7,1315.7) scale(1.2,1)" text-anchor="middle">5</text>
<text transform="translate(1899.0,1315.7) scale(1.2,1)" text-anchor="middle">6</text>
<text transform="translate(1091.4,1235.6) scale(1.2,1)" text-anchor="end">5</text>
<text transform="translate(1091.4,1137.3) scale(1.2,1)" text-anchor="end">10</text>
<text transform="translate(1091.4,1039.0) scale(1.2,1)" text-anchor="end">15</text>
<text transform="translate(1091.4,940.6) scale(1.2,1)" text-anchor="end">20</text>
<text transform="translate(1091.4,842.3) scale(1.2,1)" text-anchor="end">25</text>
<text transform="translate(1091.4,744.0) scale(1.2,1)" text-anchor="end">30</text>
</g>
<g>
<text transform="translate(186.31,51.0) scale(1.1930,1)" font-size="37.5">(d)</text>
<text transform="translate(238.80,109.4) scale(1.1554,1)" font-size="38">Bi<tspan dy="10.5">2</tspan><tspan dy="-10.5">O</tspan><tspan dy="10.5">3</tspan><tspan dy="-10.5">/CuO/GO</tspan></text>
<text transform="translate(832.10,81.8) scale(1.1183,1)" font-size="38.5" fill="#0000ff">Bi<tspan dy="10.0">2</tspan><tspan dy="-10.0">O</tspan><tspan dy="10.0">3</tspan></text>
<text transform="translate(834.96,133.8) scale(1.1408,1)" font-size="38" fill="#008000">CuO</text>
<text transform="translate(844.78,186.2) scale(1.1607,1)" font-size="38" fill="#ff007f">GO</text>
<text transform="translate(151.10,584.0) scale(1.0873,1)" font-size="28.7" fill="#ff007f">E<tspan dy="10.5">g</tspan><tspan dy="-10.5">=2.02eV</tspan></text>
<text transform="translate(425.00,489.9) scale(1.0888,1)" font-size="28.7" fill="#008000">E<tspan dy="11.5">g</tspan><tspan dy="-11.5">=2.88eV</tspan></text>
<text transform="translate(598.80,578.1) scale(1.1119,1)" font-size="25.3" fill="#0000ff">E<tspan dy="8.0">g</tspan><tspan dy="-8.0">=3.16eV</tspan></text>
<text transform="translate(419.80,663.2) scale(1.1521,1)" font-size="29.5">Photon energy(eV)</text>
<text transform="translate(38.2,449.57) rotate(-90) scale(1.0654,1)" font-size="29">(αhυ)<tspan dy="-15.1" font-size="18.0">2</tspan><tspan dy="15.1">(eV/cm)</tspan><tspan dy="-15.1" font-size="18.0">2</tspan></text>
<text transform="translate(1243.45,84.1) scale(1.1525,1)" font-size="38">(c)</text>
<text transform="translate(1249.80,147.5) scale(1.1477,1)" font-size="38">Bi<tspan dy="9.7">2</tspan><tspan dy="-9.7">O</tspan><tspan dy="9.7">3</tspan><tspan dy="-9.7">/GO</tspan></text>
<text transform="translate(1727.00,70.9) scale(1.1124,1)" font-size="39" fill="#0000ff">Bi<tspan dy="9.7">2</tspan><tspan dy="-9.7">O</tspan><tspan dy="9.7">3</tspan></text>
<text transform="translate(1761.32,125.0) scale(1.1421,1)" font-size="39" fill="#ff007f">GO</text>
<text transform="translate(1328.00,578.1) scale(1.0921,1)" font-size="28.5" fill="#ff007f">E<tspan dy="9.0">g</tspan><tspan dy="-9.0">= 2.02eV</tspan></text>
<text transform="translate(1658.20,581.0) scale(1.1202,1)" font-size="27.6" fill="#0000ff">E<tspan dy="11.0">g</tspan><tspan dy="-11.0">=2.93eV</tspan></text>
<text transform="translate(1390.60,664.8) scale(1.1539,1)" font-size="29.5">Photon energy (eV)</text>
<text transform="translate(1040.1,428.76) rotate(-90) scale(1.0621,1)" font-size="29">(αhυ)<tspan dy="-15.1" font-size="18.0">2</tspan><tspan dy="15.1">(eV/cm)</tspan><tspan dy="-15.1" font-size="18.0">2</tspan></text>
<text transform="translate(247.57,768.5) scale(1.1311,1)" font-size="38.5">(b)</text>
<text transform="translate(207.10,837.6) scale(1.1288,1)" font-size="49" fill="#0000ff">Bi<tspan dy="11.0">2</tspan><tspan dy="-11.0">O</tspan><tspan dy="11.0">3</tspan></text>
<text transform="translate(754.00,1235.8) scale(1.1101,1)" font-size="28.2" fill="#0000ff">E<tspan dy="10.0">g</tspan><tspan dy="-10.0">= 2.97eV</tspan></text>
<text transform="translate(420.40,1363.3) scale(1.1538,1)" font-size="29.5">Photon energy(eV)</text>
<text transform="translate(29.1,1048.27) rotate(-90) scale(1.0692,1)" font-size="29">(αhυ)<tspan dy="-15.1" font-size="18.0">2</tspan><tspan dy="15.1">(eV/cm)</tspan><tspan dy="-15.1" font-size="18.0">2</tspan></text>
<text transform="translate(1239.65,746.0) scale(1.1476,1)" font-size="38.5">(a)</text>
<text transform="translate(1251.79,822.0) scale(1.1571,1)" font-size="38">GO</text>
<text transform="translate(1435.30,1256.8) scale(1.1336,1)" font-size="27.5" fill="#ff007f">E<tspan dy="9.0">g</tspan><tspan dy="-9.0">=2.08eV</tspan></text>
<text transform="translate(1405.00,1363.8) scale(1.1352,1)" font-size="30">Photon energy (eV)</text>
<text transform="translate(1046.4,1097.57) rotate(-90) scale(1.0692,1)" font-size="29">(αhυ)<tspan dy="-15.1" font-size="18.0">2</tspan><tspan dy="15.1">(eV/cm)</tspan><tspan dy="-15.1" font-size="18.0">2</tspan></text>
</g>
</svg>
</body></html>
